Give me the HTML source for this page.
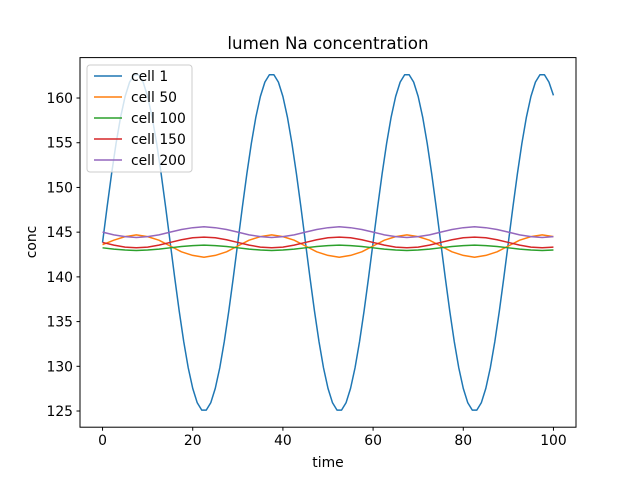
<!DOCTYPE html>
<html><head><meta charset="utf-8"><style>
body{margin:0;background:#fff;}
svg{display:block;font-family:"DejaVu Sans","Liberation Sans",sans-serif;}
</style></head><body>
<svg id="chart" width="640" height="480" viewBox="0 0 640 480" xmlns="http://www.w3.org/2000/svg">
<rect width="640" height="480" fill="#fff"/>
<text x="328" y="49" text-anchor="middle" font-size="16.7px" fill="#000">lumen Na concentration</text>
<g id="series"></g>
<rect x="80" y="57.6" width="496" height="369.6" fill="none" stroke="#000" stroke-width="1"/>
<g id="xaxis"></g><g id="yaxis"></g>
<text x="328" y="467" text-anchor="middle" font-size="13.9px">time</text>
<text transform="translate(36,242) rotate(-90)" text-anchor="middle" font-size="13.9px">conc</text>
<g id="legend"></g>
</svg>
<script>
const timesFine = [0,1,2,3,4,5,6,7,8,9,10,11,12,13,14,15,16,17,18,19,20,21,22,23,24,25,26,27,28,29,30,31,32,33,34,35,36,37,38,39,40,41,42,43,44,45,46,47,48,49,50,51,52,53,54,55,56,57,58,59,60,61,62,63,64,65,66,67,68,69,70,71,72,73,74,75,76,77,78,79,80,81,82,83,84,85,86,87,88,89,90,91,92,93,94,95,96,97,98,99,100];
const times = [0,2.5,5,7.5,10,12.5,15,17.5,20,22.5,25,27.5,30,32.5,35,37.5,40,42.5,45,47.5,50,52.5,55,57.5,60,62.5,65,67.5,70,72.5,75,77.5,80,82.5,85,87.5,90,92.5,95,97.5,100];
const cell1 = [143.85,147.77,151.52,154.93,157.86,160.17,161.78,162.60,162.60,161.78,160.17,157.86,154.93,151.52,147.77,143.85,139.93,136.18,132.77,129.84,127.53,125.92,125.10,125.10,125.92,127.53,129.84,132.77,136.18,139.93,
143.85,147.77,151.52,154.93,157.86,160.17,161.78,162.60,162.60,161.78,160.17,157.86,154.93,151.52,147.77,143.85,139.93,136.18,132.77,129.84,127.53,125.92,125.10,125.10,125.92,127.53,129.84,132.77,136.18,139.93,
143.85,147.77,151.52,154.93,157.86,160.17,161.78,162.60,162.60,161.78,160.17,157.86,154.93,151.52,147.77,143.85,139.93,136.18,132.77,129.84,127.53,125.92,125.10,125.10,125.92,127.53,129.84,132.77,136.18,139.93,
143.85,147.77,151.52,154.93,157.86,160.17,161.78,162.60,162.60,161.78,160.30];
const cell50 = [143.6,144.1,144.5,144.7,144.5,144.1,143.45,142.8,142.4,142.2,142.4,142.8,143.45,144.1,144.5,144.7,144.5,144.1,143.45,142.8,142.4,142.2,142.4,142.8,143.45,144.1,144.5,144.7,144.5,144.1,143.45,142.8,142.4,142.2,142.4,142.8,143.45,144.1,144.5,144.7,144.5];
const cell100 = [143.25,143.1,143.0,142.95,143.0,143.1,143.25,143.4,143.5,143.55,143.5,143.4,143.25,143.1,143.0,142.95,143.0,143.1,143.25,143.4,143.5,143.55,143.5,143.4,143.25,143.1,143.0,142.95,143.0,143.1,143.25,143.4,143.5,143.55,143.5,143.4,143.25,143.1,143.0,142.95,143.0];
const cell150 = [143.85,143.55,143.33,143.25,143.33,143.55,143.85,144.15,144.37,144.45,144.37,144.15,143.85,143.55,143.33,143.25,143.33,143.55,143.85,144.15,144.37,144.45,144.37,144.15,143.85,143.55,143.33,143.25,143.33,143.55,143.85,144.15,144.37,144.45,144.37,144.15,143.85,143.55,143.33,143.25,143.33];
const cell200 = [145.0,144.7,144.5,144.4,144.5,144.7,145.0,145.3,145.5,145.6,145.5,145.3,145.0,144.7,144.5,144.4,144.5,144.7,145.0,145.3,145.5,145.6,145.5,145.3,145.0,144.7,144.5,144.4,144.5,144.7,145.0,145.3,145.5,145.6,145.5,145.3,145.0,144.7,144.5,144.4,144.5];
const seriesNames = ["cell 1","cell 50","cell 100","cell 150","cell 200"];
const xTicks = [0,20,40,60,80,100];
const yTicks = [125,130,135,140,145,150,155,160];

const NS="http://www.w3.org/2000/svg";
const colors=["#1f77b4","#ff7f0e","#2ca02c","#d62728","#9467bd"];
const allSeries=[cell1,cell50,cell100,cell150,cell200];
const allTimes=[timesFine,times,times,times,times];
const L=80,R=576,T=57.6,B=427.2;
const xmin=-5,xmax=105,ymin=123.19,ymax=164.52;
const sx=v=>L+(v-xmin)/(xmax-xmin)*(R-L);
const sy=v=>B-(v-ymin)/(ymax-ymin)*(B-T);
function mk(tag,attrs,parent){const e=document.createElementNS(NS,tag);for(const k in attrs)e.setAttribute(k,attrs[k]);parent.appendChild(e);return e;}
const gs=document.getElementById('series');
allSeries.forEach((s,i)=>{
  const tt=allTimes[i];
  const p=mk('polyline',{points:s.map((v,j)=>sx(tt[j]).toFixed(2)+','+sy(v).toFixed(2)).join(' '),fill:'none',stroke:colors[i],'stroke-width':1.5,'stroke-linejoin':'round'},gs);
  
  
});
const gx=document.getElementById('xaxis');
xTicks.forEach(t=>{
  const l=mk('line',{x1:sx(t),x2:sx(t),y1:B,y2:B+3.5,stroke:'#000'},gx);
  
  
  const tx=mk('text',{x:sx(t),y:B+18,'text-anchor':'middle','font-size':'13.9px'},gx);
  tx.textContent=t;
  
  
});
const gy=document.getElementById('yaxis');
yTicks.forEach(t=>{
  const l=mk('line',{x1:L-3.5,x2:L,y1:sy(t),y2:sy(t),stroke:'#000'},gy);
  
  
  const tx=mk('text',{x:L-7,y:sy(t)+5,'text-anchor':'end','font-size':'13.9px'},gy);
  tx.textContent=t;
  
  
});
const gl=document.getElementById('legend');


mk('rect',{x:87,y:65,width:105,height:107,rx:3,fill:'#fff','fill-opacity':0.8,stroke:'#ccc'},gl);
seriesNames.forEach((n,i)=>{
  const y=76+i*21;
  const g=mk('g',{},gl);
  
  
  mk('line',{x1:94,x2:122,y1:y,y2:y,stroke:colors[i],'stroke-width':1.5},g);
  const t=mk('text',{x:131,y:y+5,'font-size':'13.9px'},g);
  t.textContent=n;
});
</script>
</body></html>
